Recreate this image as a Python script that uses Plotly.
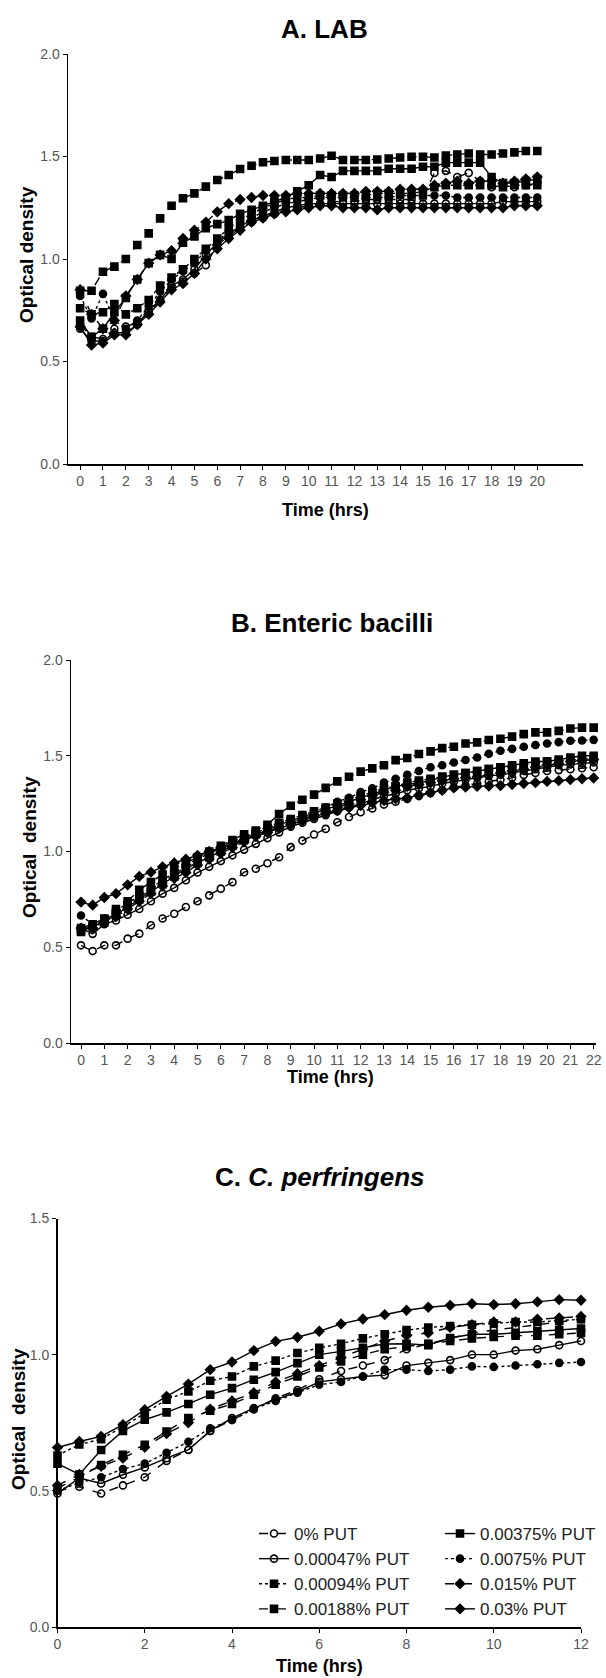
import plotly.graph_objects as go

# ---------------- data ----------------
series_names = ["0% PUT", "0.00047% PUT", "0.00094% PUT", "0.00188% PUT",
                "0.00375% PUT", "0.0075% PUT", "0.015% PUT", "0.03% PUT"]

time_a = [0, 0.5, 1, 1.5, 2, 2.5, 3, 3.5, 4, 4.5, 5, 5.5, 6, 6.5, 7, 7.5, 8, 8.5, 9, 9.5,
          10, 10.5, 11, 11.5, 12, 12.5, 13, 13.5, 14, 14.5, 15, 15.5, 16, 16.5, 17, 17.5,
          18, 18.5, 19, 19.5, 20]
time_b = [0, 0.5, 1, 1.5, 2, 2.5, 3, 3.5, 4, 4.5, 5, 5.5, 6, 6.5, 7, 7.5, 8, 8.5, 9, 9.5,
          10, 10.5, 11, 11.5, 12, 12.5, 13, 13.5, 14, 14.5, 15, 15.5, 16, 16.5, 17, 17.5,
          18, 18.5, 19, 19.5, 20, 20.5, 21, 21.5, 22]
time_c = [0, 0.5, 1, 1.5, 2, 2.5, 3, 3.5, 4, 4.5, 5, 5.5, 6, 6.5, 7, 7.5, 8, 8.5, 9, 9.5,
          10, 10.5, 11, 11.5, 12]

# Panel A: LAB
a_p0 = [0.68, 0.62, 0.61, 0.66, 0.67, 0.69, 0.74, 0.80, 0.86, 0.89,
        0.93, 0.97, 1.07, 1.11, 1.15, 1.18, 1.20, 1.22, 1.24, 1.25,
        1.26, 1.27, 1.28, 1.28, 1.28, 1.29, 1.29, 1.29, 1.29, 1.29,
        1.30, 1.42, 1.43, 1.40, 1.42, 1.38, 1.35, 1.36, 1.35, 1.36,
        1.37]
a_p00047 = [0.66, 0.60, 0.60, 0.64, 0.64, 0.68, 0.75, 0.80, 0.87, 0.90,
            0.95, 1.02, 1.08, 1.12, 1.16, 1.19, 1.21, 1.23, 1.25, 1.26,
            1.27, 1.27, 1.27, 1.27, 1.27, 1.27, 1.27, 1.27, 1.27, 1.27,
            1.27, 1.27, 1.27, 1.27, 1.27, 1.27, 1.27, 1.28, 1.28, 1.28,
            1.28]
a_p00094 = [0.76, 0.73, 0.74, 0.78, 0.73, 0.76, 0.80, 0.87, 0.91, 0.95,
            1.00, 1.05, 1.10, 1.15, 1.19, 1.22, 1.25, 1.27, 1.29, 1.30,
            1.30, 1.31, 1.31, 1.31, 1.31, 1.31, 1.32, 1.32, 1.32, 1.32,
            1.33, 1.35, 1.36, 1.36, 1.36, 1.36, 1.36, 1.35, 1.36, 1.36,
            1.36]
a_p00188 = [0.845, 0.845, 0.938, 0.963, 1.00, 1.068, 1.125, 1.198, 1.26, 1.296,
            1.32, 1.353, 1.385, 1.41, 1.439, 1.455, 1.472, 1.478, 1.483, 1.483,
            1.483, 1.49, 1.504, 1.483, 1.483, 1.483, 1.485, 1.49, 1.495, 1.499,
            1.499, 1.495, 1.505, 1.51, 1.515, 1.51, 1.51, 1.515, 1.52, 1.527,
            1.527]
a_p00375 = [0.70, 0.62, 0.66, 0.74, 0.81, 0.90, 0.98, 1.02, 1.00, 1.08,
            1.11, 1.15, 1.17, 1.19, 1.22, 1.24, 1.26, 1.28, 1.30, 1.33,
            1.36, 1.41, 1.40, 1.43, 1.43, 1.43, 1.43, 1.44, 1.44, 1.44,
            1.45, 1.45, 1.47, 1.47, 1.47, 1.47, 1.40, 1.37, 1.37, 1.38,
            1.39]
a_p0075 = [0.82, 0.71, 0.83, 0.70, 0.66, 0.70, 0.77, 0.84, 0.90, 0.94,
           0.98, 1.04, 1.09, 1.13, 1.17, 1.20, 1.23, 1.25, 1.27, 1.28,
           1.29, 1.30, 1.30, 1.30, 1.30, 1.30, 1.30, 1.30, 1.31, 1.31,
           1.31, 1.31, 1.31, 1.30, 1.30, 1.30, 1.30, 1.30, 1.30, 1.30,
           1.30]
a_p015 = [0.85, 0.73, 0.66, 0.70, 0.82, 0.90, 0.98, 1.02, 1.04, 1.10,
          1.14, 1.18, 1.23, 1.27, 1.29, 1.30, 1.31, 1.31, 1.31, 1.32,
          1.32, 1.32, 1.32, 1.32, 1.32, 1.33, 1.33, 1.33, 1.34, 1.34,
          1.34, 1.36, 1.37, 1.38, 1.37, 1.38, 1.38, 1.37, 1.38, 1.39,
          1.40]
a_p03 = [0.67, 0.58, 0.59, 0.63, 0.63, 0.68, 0.73, 0.79, 0.85, 0.88,
         0.93, 1.00, 1.05, 1.10, 1.14, 1.18, 1.20, 1.22, 1.23, 1.24,
         1.25, 1.26, 1.26, 1.25, 1.25, 1.25, 1.24, 1.25, 1.25, 1.25,
         1.25, 1.25, 1.25, 1.25, 1.25, 1.25, 1.25, 1.25, 1.26, 1.26,
         1.26]

# Panel B: Enteric bacilli
b_p0 = [0.51, 0.48, 0.51, 0.51, 0.545, 0.571, 0.615, 0.65, 0.675, 0.71,
        0.74, 0.771, 0.806, 0.84, 0.892, 0.91, 0.939, 0.97, 1.023, 1.057,
        1.089, 1.118, 1.153, 1.18, 1.205, 1.225, 1.245, 1.26, 1.275, 1.29,
        1.305, 1.32, 1.335, 1.345, 1.355, 1.365, 1.375, 1.385, 1.40, 1.41,
        1.42, 1.425, 1.43, 1.435, 1.44]
b_p00047 = [0.60, 0.57, 0.62, 0.64, 0.67, 0.70, 0.74, 0.78, 0.81, 0.85,
            0.89, 0.92, 0.95, 0.98, 1.01, 1.04, 1.07, 1.10, 1.13, 1.15,
            1.17, 1.19, 1.21, 1.23, 1.25, 1.27, 1.29, 1.30, 1.32, 1.33,
            1.34, 1.355, 1.365, 1.375, 1.385, 1.395, 1.40, 1.41, 1.42, 1.43,
            1.44, 1.45, 1.455, 1.46, 1.465]
b_p00094 = [0.59, 0.61, 0.64, 0.68, 0.72, 0.76, 0.80, 0.84, 0.88, 0.92,
            0.95, 0.98, 1.01, 1.04, 1.07, 1.10, 1.12, 1.15, 1.17, 1.19,
            1.21, 1.23, 1.25, 1.27, 1.29, 1.31, 1.33, 1.34, 1.36, 1.37,
            1.38, 1.39, 1.40, 1.41, 1.42, 1.43, 1.44, 1.44, 1.45, 1.46,
            1.47, 1.47, 1.48, 1.48, 1.49]
b_p00188 = [0.60, 0.62, 0.65, 0.70, 0.74, 0.80, 0.84, 0.88, 0.91, 0.94,
            0.97, 1.00, 1.03, 1.06, 1.09, 1.11, 1.14, 1.196, 1.239, 1.27,
            1.297, 1.332, 1.366, 1.39, 1.417, 1.434, 1.45, 1.477, 1.488, 1.509,
            1.523, 1.54, 1.547, 1.564, 1.57, 1.582, 1.589, 1.60, 1.613, 1.622,
            1.622, 1.63, 1.642, 1.647, 1.647]
b_p00375 = [0.58, 0.61, 0.63, 0.67, 0.71, 0.75, 0.79, 0.83, 0.87, 0.91,
            0.94, 0.97, 1.00, 1.03, 1.06, 1.09, 1.11, 1.14, 1.16, 1.18,
            1.20, 1.22, 1.24, 1.26, 1.28, 1.30, 1.32, 1.34, 1.35, 1.36,
            1.37, 1.39, 1.40, 1.41, 1.42, 1.43, 1.44, 1.45, 1.46, 1.47,
            1.47, 1.48, 1.49, 1.50, 1.50]
b_p0075 = [0.666, 0.62, 0.65, 0.69, 0.73, 0.77, 0.81, 0.85, 0.89, 0.93,
           0.96, 0.99, 1.02, 1.05, 1.08, 1.10, 1.13, 1.15, 1.17, 1.19,
           1.21, 1.23, 1.26, 1.28, 1.31, 1.33, 1.36, 1.38, 1.40, 1.42,
           1.44, 1.45, 1.465, 1.478, 1.491, 1.51, 1.526, 1.536, 1.547, 1.556,
           1.564, 1.571, 1.578, 1.58, 1.583]
b_p015 = [0.60, 0.60, 0.63, 0.66, 0.70, 0.74, 0.78, 0.82, 0.86, 0.89,
          0.93, 0.96, 0.99, 1.02, 1.05, 1.08, 1.10, 1.13, 1.15, 1.17,
          1.19, 1.21, 1.23, 1.25, 1.27, 1.29, 1.31, 1.32, 1.34, 1.35,
          1.36, 1.37, 1.38, 1.385, 1.39, 1.40, 1.41, 1.42, 1.43, 1.44,
          1.45, 1.46, 1.47, 1.475, 1.48]
b_p03 = [0.736, 0.72, 0.76, 0.78, 0.826, 0.87, 0.892, 0.92, 0.94, 0.96,
         0.98, 1.00, 1.02, 1.04, 1.06, 1.08, 1.10, 1.12, 1.14, 1.16,
         1.18, 1.20, 1.214, 1.23, 1.24, 1.255, 1.266, 1.275, 1.28, 1.295,
         1.309, 1.32, 1.332, 1.336, 1.34, 1.342, 1.344, 1.35, 1.355, 1.36,
         1.366, 1.37, 1.375, 1.38, 1.384]

# Panel C: C. perfringens
c_p0 = [0.50, 0.515, 0.49, 0.52, 0.55, 0.61, 0.65, 0.72, 0.76, 0.80,
        0.84, 0.87, 0.91, 0.94, 0.96, 0.98, 1.02, 1.04, 1.06, 1.08,
        1.09, 1.10, 1.11, 1.12, 1.13]
c_p00047 = [0.49, 0.547, 0.527, 0.559, 0.586, 0.62, 0.651, 0.72, 0.767, 0.804,
            0.835, 0.863, 0.90, 0.91, 0.92, 0.925, 0.96, 0.97, 0.98, 1.0,
            1.0, 1.015, 1.02, 1.035, 1.05]
c_p00094 = [0.63, 0.67, 0.69, 0.735, 0.785, 0.835, 0.865, 0.904, 0.92, 0.957,
            0.978, 1.006, 1.025, 1.04, 1.06, 1.075, 1.09, 1.10, 1.105, 1.11,
            1.115, 1.12, 1.12, 1.125, 1.13]
c_p00188 = [0.51, 0.55, 0.595, 0.632, 0.669, 0.718, 0.767, 0.794, 0.819, 0.853,
            0.89, 0.92, 0.953, 0.975, 1.0, 1.02, 1.03, 1.04, 1.05, 1.06,
            1.065, 1.07, 1.07, 1.075, 1.08]
c_p00375 = [0.60, 0.56, 0.65, 0.72, 0.761, 0.788, 0.819, 0.853, 0.877, 0.908,
            0.936, 0.969, 1.0, 1.012, 1.025, 1.039, 1.04, 1.035, 1.061, 1.075,
            1.075, 1.08, 1.086, 1.09, 1.096]
c_p0075 = [0.50, 0.53, 0.55, 0.58, 0.60, 0.64, 0.68, 0.73, 0.76, 0.80,
           0.83, 0.86, 0.89, 0.90, 0.92, 0.945, 0.945, 0.94, 0.945, 0.957,
           0.955, 0.96, 0.965, 0.97, 0.973]
c_p015 = [0.52, 0.56, 0.59, 0.62, 0.66, 0.71, 0.75, 0.80, 0.83, 0.86,
          0.90, 0.93, 0.96, 0.99, 1.02, 1.05, 1.07, 1.08, 1.10, 1.11,
          1.12, 1.12, 1.13, 1.135, 1.14]
c_p03 = [0.659, 0.681, 0.70, 0.743, 0.798, 0.847, 0.892, 0.945, 0.973, 1.015,
         1.049, 1.064, 1.086, 1.113, 1.131, 1.147, 1.163, 1.174, 1.181, 1.187,
         1.184, 1.187, 1.194, 1.202, 1.20]

panel_a = [a_p0, a_p00047, a_p00094, a_p00188, a_p00375, a_p0075, a_p015, a_p03]
panel_b = [b_p0, b_p00047, b_p00094, b_p00188, b_p00375, b_p0075, b_p015, b_p03]
panel_c = [c_p0, c_p00047, c_p00094, c_p00188, c_p00375, c_p0075, c_p015, c_p03]

panel_titles = ["<b>A. LAB</b>", "<b>B. Enteric bacilli</b>", "<b>C. <i>C. perfringens</i></b>"]
x_title = "Time (hrs)"
y_titles = ["Optical density", "Optical  density", "Optical  density"]

# ---------------- styling ----------------
W, H = 606, 1678
FONT = "Liberation Sans, Arial, sans-serif"
dashes = ["dash", "solid", "dot", "dash", "solid", "dot", "dash", "solid"]
symbols = ["circle-open", "circle-open", "square", "square", "square", "circle", "diamond", "diamond"]


def fx(px):
    return px / W


def fy(px):
    return 1 - px / H


fig = go.Figure()

panels = [
    (time_a, panel_a, "x", "y"),
    (time_b, panel_b, "x2", "y2"),
    (time_c, panel_c, "x3", "y3"),
]
for pi, (tt, data, xa, ya) in enumerate(panels):
    for si, vals in enumerate(data):
        is_c = pi == 2
        fig.add_trace(go.Scatter(
            x=tt, y=vals, xaxis=xa, yaxis=ya,
            mode="lines+markers",
            name=series_names[si],
            showlegend=is_c,
            legend=("legend" if si < 4 else "legend2") if is_c else None,
            line=dict(color="black", width=1.4, dash=dashes[si]),
            marker=dict(symbol=symbols[si], size=7, color="black",
                        line=dict(color="black", width=1.6)),
            cliponaxis=False,
        ))

tickfont = dict(family=FONT, size=14, color="#555")
axis_common = dict(showgrid=False, zeroline=False, showline=True, linecolor="black",
                   linewidth=1.5, ticks="outside", ticklen=4, tickwidth=1,
                   tickcolor="black", tickfont=tickfont, automargin=False)

legend_common = dict(xanchor="left", yanchor="top",
                     font=dict(family=FONT, size=17, color="#222"),
                     bgcolor="rgba(0,0,0,0)", borderwidth=0, tracegroupgap=0)

fig.update_layout(
    template="none",
    width=W, height=H, margin=dict(l=0, r=0, t=0, b=0, pad=0, autoexpand=False),
    paper_bgcolor="white", plot_bgcolor="white",
    font=dict(family=FONT, color="black"),
    xaxis=dict(domain=[fx(68), fx(583)], range=[-0.53, 22.0], anchor="y",
               tickvals=list(range(0, 21)), **axis_common),
    yaxis=dict(domain=[fy(464), fy(54)], range=[0, 2.0], anchor="x",
               tickvals=[0, 0.5, 1.0, 1.5, 2.0], tickformat=".1f", **axis_common),
    xaxis2=dict(domain=[fx(71), fx(596)], range=[-0.43, 22.1], anchor="y2",
                tickvals=list(range(0, 23)), **axis_common),
    yaxis2=dict(domain=[fy(1043), fy(660)], range=[0, 2.0], anchor="x2",
                tickvals=[0, 0.5, 1.0, 1.5, 2.0], tickformat=".1f", **axis_common),
    xaxis3=dict(domain=[fx(57.5), fx(581)], range=[0, 12], anchor="y3",
                tickvals=[0, 2, 4, 6, 8, 10, 12], **axis_common),
    yaxis3=dict(domain=[fy(1627), fy(1218.5)], range=[0, 1.5], anchor="x3",
                tickvals=[0, 0.5, 1.0, 1.5], tickformat=".1f", **axis_common),
    legend=dict(x=fx(254), y=fy(1516), **legend_common),
    legend2=dict(x=fx(440), y=fy(1516), **legend_common),
)

ann = []
title_pos = [(324, 29), (332, 623), (319, 1177)]
xt_pos = [(325, 510), (330, 1077), (320, 1666)]
yt_pos = [(26, 255), (29, 847), (18, 1419)]
for i in range(3):
    ann.append(dict(text=panel_titles[i], x=fx(title_pos[i][0]), y=fy(title_pos[i][1]),
                    xref="paper", yref="paper", showarrow=False,
                    xanchor="center", yanchor="middle",
                    font=dict(family=FONT, size=26, color="black")))
    ann.append(dict(text="<b>" + x_title + "</b>", x=fx(xt_pos[i][0]), y=fy(xt_pos[i][1]),
                    xref="paper", yref="paper", showarrow=False,
                    xanchor="center", yanchor="middle",
                    font=dict(family=FONT, size=18, color="black")))
    ann.append(dict(text="<b>" + y_titles[i] + "</b>", x=fx(yt_pos[i][0]), y=fy(yt_pos[i][1]),
                    xref="paper", yref="paper", showarrow=False, textangle=-90,
                    xanchor="center", yanchor="middle",
                    font=dict(family=FONT, size=19, color="black")))
fig.update_layout(annotations=ann)

fig.write_html("out.html",
               config={"displayModeBar": False, "staticPlot": True},
               post_script="document.body.style.margin='0';document.body.style.overflow='hidden';")
